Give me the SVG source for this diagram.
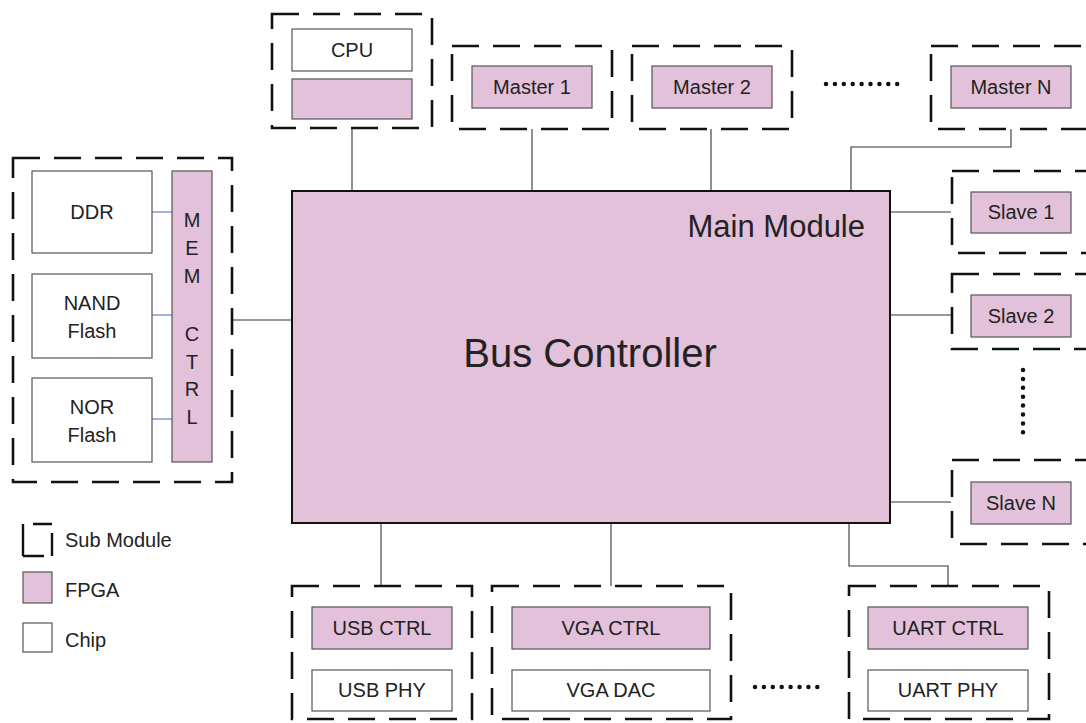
<svg xmlns="http://www.w3.org/2000/svg" width="1086" height="723" viewBox="0 0 1086 723">
<style>
.sub{fill:none;stroke:#111;stroke-width:2.6;stroke-dasharray:27 14}
.fpga{fill:#e3c1da;stroke:#555;stroke-width:1.2}
.chip{fill:#fff;stroke:#555;stroke-width:1.2}
.t{font-family:"Liberation Sans",Arial,sans-serif;font-size:20px;fill:#222;text-anchor:middle}
.lg{font-family:"Liberation Sans",Arial,sans-serif;font-size:20px;fill:#222}
.c{fill:none;stroke:#333;stroke-width:1.1}
.b{fill:none;stroke:#6b8fc8;stroke-width:1.3}
.dots{fill:none;stroke:#111;stroke-width:4.5;stroke-linecap:round;stroke-dasharray:0 8.9}
</style>
<rect width="1086" height="723" fill="#fff"/>
<g id="connectors">
<line class="c" x1="352" y1="128" x2="352" y2="191"/>
<line class="c" x1="532" y1="129" x2="532" y2="191"/>
<line class="c" x1="711" y1="129" x2="711" y2="191"/>
<polyline class="c" points="1011,129 1011,147 851,147 851,191"/>
<line class="c" x1="890" y1="212" x2="951" y2="212"/>
<line class="c" x1="890" y1="315" x2="951" y2="315"/>
<line class="c" x1="890" y1="502" x2="951" y2="502"/>
<line class="c" x1="232" y1="320" x2="292" y2="320"/>
<line class="c" x1="381" y1="523" x2="381" y2="586"/>
<line class="c" x1="611" y1="523" x2="611" y2="586"/>
<polyline class="c" points="849,523 849,566 948,566 948,586"/>
<line class="b" x1="152" y1="212" x2="172" y2="212"/>
<line class="b" x1="152" y1="315" x2="172" y2="315"/>
<line class="b" x1="152" y1="419" x2="172" y2="419"/>
</g>
<g id="main">
<rect x="292" y="191" width="598" height="332" fill="#e3c1da" stroke="#111" stroke-width="2"/>
<text x="865" y="237" style="font-family:'Liberation Sans',Arial,sans-serif;font-size:31px;fill:#222;text-anchor:end">Main Module</text>
<text x="590" y="367" style="font-family:'Liberation Sans',Arial,sans-serif;font-size:40px;fill:#222;text-anchor:middle">Bus Controller</text>
</g>
<g id="cpu">
<rect class="sub" x="272" y="14" width="160" height="114"/>
<rect class="chip" x="292" y="29" width="120" height="42"/>
<text class="t" x="352" y="57">CPU</text>
<rect class="fpga" x="292" y="79" width="120" height="40"/>
</g>
<g id="master1">
<rect class="sub" x="452" y="46" width="160" height="83"/>
<rect class="fpga" x="472" y="66" width="120" height="42"/>
<text class="t" x="532" y="94">Master 1</text>
</g>
<g id="master2">
<rect class="sub" x="632" y="46" width="160" height="83"/>
<rect class="fpga" x="652" y="66" width="120" height="42"/>
<text class="t" x="712" y="94">Master 2</text>
</g>
<line class="dots" x1="826" y1="84" x2="898" y2="84"/>
<g id="masterN">
<rect class="sub" x="931" y="46" width="160" height="83"/>
<rect class="fpga" x="951" y="66" width="120" height="42"/>
<text class="t" x="1011" y="94">Master N</text>
</g>
<g id="slave1">
<rect class="sub" x="952" y="171" width="160" height="82"/>
<rect class="fpga" x="971" y="192" width="100" height="41"/>
<text class="t" x="1021" y="219">Slave 1</text>
</g>
<g id="slave2">
<rect class="sub" x="952" y="274" width="160" height="75"/>
<rect class="fpga" x="971" y="295" width="100" height="42"/>
<text class="t" x="1021" y="323">Slave 2</text>
</g>
<line class="dots" x1="1023" y1="370" x2="1023" y2="441"/>
<g id="slaveN">
<rect class="sub" x="952" y="460" width="160" height="84"/>
<rect class="fpga" x="971" y="482" width="100" height="42"/>
<text class="t" x="1021" y="510">Slave N</text>
</g>
<g id="memory">
<rect class="sub" x="13" y="158" width="219" height="324"/>
<rect class="chip" x="32" y="171" width="120" height="82"/>
<text class="t" x="92" y="219">DDR</text>
<rect class="chip" x="32" y="274" width="120" height="84"/>
<text class="t" x="92" y="310">NAND</text>
<text class="t" x="92" y="338">Flash</text>
<rect class="chip" x="32" y="378" width="120" height="84"/>
<text class="t" x="92" y="414">NOR</text>
<text class="t" x="92" y="442">Flash</text>
<rect class="fpga" x="172" y="171" width="40" height="291"/>
<text class="t" x="192" y="227">M</text>
<text class="t" x="192" y="255">E</text>
<text class="t" x="192" y="283">M</text>
<text class="t" x="192" y="341">C</text>
<text class="t" x="192" y="369">T</text>
<text class="t" x="192" y="396">R</text>
<text class="t" x="192" y="424">L</text>
</g>
<g id="usb">
<rect class="sub" x="292" y="586" width="180" height="133"/>
<rect class="fpga" x="312" y="607" width="140" height="42"/>
<text class="t" x="382" y="635">USB CTRL</text>
<rect class="chip" x="312" y="670" width="140" height="41"/>
<text class="t" x="382" y="697">USB PHY</text>
</g>
<g id="vga">
<rect class="sub" x="492" y="586" width="239" height="133"/>
<rect class="fpga" x="512" y="607" width="198" height="42"/>
<text class="t" x="611" y="635">VGA CTRL</text>
<rect class="chip" x="512" y="670" width="198" height="41"/>
<text class="t" x="611" y="697">VGA DAC</text>
</g>
<line class="dots" x1="755" y1="687" x2="826" y2="687"/>
<g id="uart">
<rect class="sub" x="849" y="586" width="200" height="133"/>
<rect class="fpga" x="868" y="607" width="160" height="42"/>
<text class="t" x="948" y="635">UART CTRL</text>
<rect class="chip" x="868" y="670" width="160" height="41"/>
<text class="t" x="948" y="697">UART PHY</text>
</g>
<g id="legend">
<path d="M23,524 V556 M33,524 H52 M52,533 V556 M23,556 H44" fill="none" stroke="#111" stroke-width="2.4"/>
<text class="lg" x="65" y="547">Sub Module</text>
<rect class="fpga" x="23" y="572" width="29" height="31"/>
<text class="lg" x="65" y="597">FPGA</text>
<rect class="chip" x="23" y="623" width="29" height="29"/>
<text class="lg" x="65" y="647">Chip</text>
</g>
</svg>
